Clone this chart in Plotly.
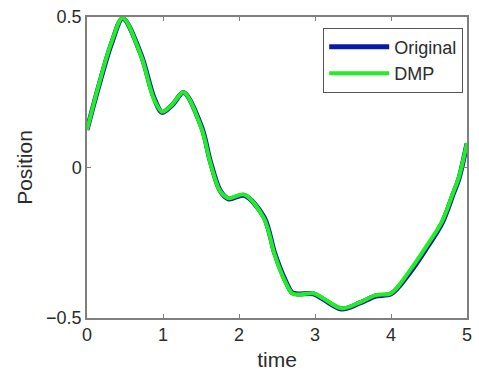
import plotly.graph_objects as go

t = [0.0, 0.15, 0.32, 0.47, 0.71, 0.88, 0.99, 1.13, 1.27, 1.51, 1.62, 1.75, 1.86, 2.07,
     2.33, 2.47, 2.6, 2.7, 2.77, 2.98, 3.11, 3.35, 3.59, 3.8, 4.0, 4.24, 4.45, 4.67, 4.82, 4.89, 5.0]
original = [0.125, 0.266, 0.41, 0.495, 0.376, 0.233, 0.183, 0.21, 0.249, 0.133, 0.023, -0.076, -0.104, -0.093,
            -0.165, -0.285, -0.37, -0.416, -0.42, -0.42, -0.438, -0.47, -0.45, -0.427, -0.42, -0.352, -0.275, -0.186, -0.087, -0.04, 0.08]
dmp = [0.125, 0.27, 0.415, 0.497, 0.372, 0.228, 0.185, 0.212, 0.25, 0.128, 0.018, -0.078, -0.102, -0.09,
       -0.17, -0.29, -0.375, -0.418, -0.422, -0.418, -0.435, -0.468, -0.448, -0.424, -0.418, -0.345, -0.268, -0.18, -0.082, -0.035, 0.082]

xticks = [0, 1, 2, 3, 4, 5]
yticks = [-0.5, 0, 0.5]
ytick_text = ["\u22120.5", "0", "0.5"]

FONT = "Liberation Sans, Arial"
TXT = "#2b2b2b"

fig = go.Figure()
fig.add_trace(go.Scatter(x=t, y=original, mode="lines", name="Original",
                         line=dict(color="#0a1aa8", width=5, shape="spline", smoothing=0.9)))
fig.add_trace(go.Scatter(x=t, y=dmp, mode="lines", name="DMP",
                         line=dict(color="#22ee22", width=4, shape="spline", smoothing=0.9)))

axis_common = dict(showgrid=False, zeroline=False, showline=True, linecolor="#7f7f7f", linewidth=1.5,
                   mirror="ticks", ticks="inside", ticklen=4, tickcolor="#7f7f7f",
                   tickfont=dict(family=FONT, size=18, color=TXT))

fig.update_layout(
    width=479, height=376,
    margin=dict(l=87, r=7, t=16, b=58),
    paper_bgcolor="white", plot_bgcolor="white",
    xaxis=dict(range=[0, 5], tickvals=xticks, ticktext=[str(v) for v in xticks],
               title=dict(text="time", font=dict(family=FONT, size=21, color=TXT), standoff=8),
               **axis_common),
    yaxis=dict(range=[-0.5, 0.5], tickvals=yticks, ticktext=ytick_text,
               title=dict(text="Position", font=dict(family=FONT, size=21, color=TXT), standoff=8),
               **axis_common),
    legend=dict(x=0.99, y=0.965, xanchor="right", yanchor="top",
                bgcolor="white", bordercolor="#555555", borderwidth=1,
                font=dict(family=FONT, size=18, color=TXT),
                itemwidth=60, tracegroupgap=0),
    showlegend=True,
)

fig.write_html("out.html")
